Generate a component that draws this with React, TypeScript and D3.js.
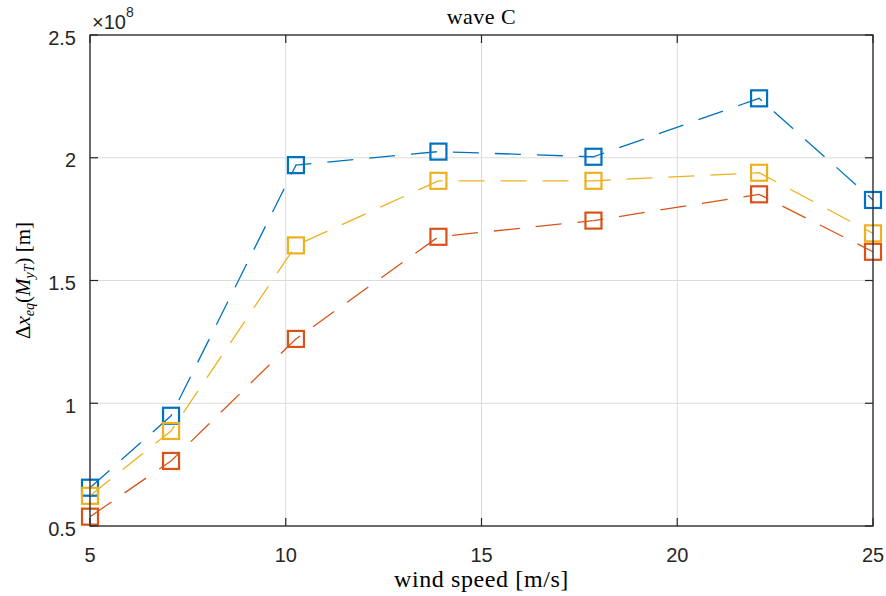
import React from "react";
import * as d3 from "d3";

const windSpeed = [5, 7.07, 10.26, 13.9, 17.86, 22.09, 25];
const seriesBlue = [0.656, 0.949, 1.970, 2.025, 2.004, 2.242, 1.828];
const seriesRed = [0.538, 0.765, 1.262, 1.678, 1.744, 1.851, 1.617];
const seriesYellow = [0.623, 0.887, 1.643, 1.906, 1.906, 1.939, 1.692];
const xTicks = [5, 10, 15, 20, 25];
const yTicks = [0.5, 1, 1.5, 2, 2.5];

const series = [
  { name: "blue", values: seriesBlue, color: "#0072BD" },
  { name: "red", values: seriesRed, color: "#D95319" },
  { name: "yellow", values: seriesYellow, color: "#EDB120" },
];

const W = 886;
const H = 596;
const L = 90, R = 873, T = 35, B = 526;

export default function App() {
  const x = d3.scaleLinear().domain([5, 25]).range([L, R]);
  const y = d3.scaleLinear().domain([0.5, 2.5]).range([B, T]);
  const line = d3
    .line<number>()
    .x((_, i) => x(windSpeed[i]))
    .y((d) => y(d));
  const axisColor = "#262626";
  const tickFont = "'Liberation Sans', Arial, Helvetica, sans-serif";
  const serif = "'Liberation Serif', 'Times New Roman', serif";
  const ms = 16;
  return (
    <svg
      width={W}
      height={H}
      style={{ position: "absolute", left: 0, top: 0, background: "#fff" }}
    >
      <rect x={0} y={0} width={W} height={H} fill="#fff" />
      {/* grid */}
      {xTicks.map((t) => (
        <line key={"gx" + t} x1={x(t)} x2={x(t)} y1={T} y2={B} stroke="#dcdcdc" strokeWidth={1} />
      ))}
      {yTicks.map((t) => (
        <line key={"gy" + t} x1={L} x2={R} y1={y(t)} y2={y(t)} stroke="#dcdcdc" strokeWidth={1} />
      ))}
      {/* ticks */}
      {xTicks.map((t) => (
        <g key={"tx" + t}>
          <line x1={x(t)} x2={x(t)} y1={B} y2={B - 8} stroke={axisColor} strokeWidth={1.2} />
          <line x1={x(t)} x2={x(t)} y1={T} y2={T + 8} stroke={axisColor} strokeWidth={1.2} />
          <text x={x(t)} y={562} textAnchor="middle" fontFamily={tickFont} fontSize={20} fill={axisColor}>
            {t}
          </text>
        </g>
      ))}
      {yTicks.map((t) => (
        <g key={"ty" + t}>
          <line x1={L} x2={L + 8} y1={y(t)} y2={y(t)} stroke={axisColor} strokeWidth={1.2} />
          <line x1={R} x2={R - 8} y1={y(t)} y2={y(t)} stroke={axisColor} strokeWidth={1.2} />
          <text x={76} y={y(t) + 9.5} textAnchor="end" fontFamily={tickFont} fontSize={20} fill={axisColor}>
            {t}
          </text>
        </g>
      ))}
      {/* data */}
      {series.map((s) => (
        <g key={s.name}>
          <path
            d={line(s.values) || ""}
            fill="none"
            stroke={s.color}
            strokeWidth={1.3}
            strokeDasharray="26,16"
          />
          {s.values.map((v, i) => (
            <rect
              key={i}
              x={x(windSpeed[i]) - ms / 2}
              y={y(v) - ms / 2}
              width={ms}
              height={ms}
              fill="none"
              stroke={s.color}
              strokeWidth={2.2}
            />
          ))}
        </g>
      ))}
      {/* box */}
      <rect x={L} y={T} width={R - L} height={B - T} fill="none" stroke={axisColor} strokeWidth={1.3} />
      {/* exponent */}
      <text x={92} y={29} fontFamily={tickFont} fontSize={20} fill={axisColor}>
        ×10
        <tspan fontSize={14} dy={-12}>8</tspan>
      </text>
      {/* title */}
      <text x={(L + R) / 2} y={24} textAnchor="middle" fontFamily={serif} fontSize={22} letterSpacing={0.5} fill="#000">
        wave C
      </text>
      {/* x label */}
      <text x={(L + R) / 2} y={587} textAnchor="middle" fontFamily={serif} fontSize={24} letterSpacing={0.6} fill="#000">
        wind speed [m/s]
      </text>
      {/* y label */}
      <text
        transform={`translate(30, ${(T + B) / 2}) rotate(-90)`}
        textAnchor="middle"
        fontFamily={serif}
        fontSize={21}
        fill="#000"
      >
        Δ<tspan fontStyle="italic">x</tspan>
        <tspan fontStyle="italic" fontSize={14} dy={4}>eq</tspan>
        <tspan dy={-4}>(</tspan>
        <tspan fontStyle="italic">M</tspan>
        <tspan fontStyle="italic" fontSize={14} dy={4}>yT</tspan>
        <tspan dy={-4}>) [m]</tspan>
      </text>
    </svg>
  );
}
